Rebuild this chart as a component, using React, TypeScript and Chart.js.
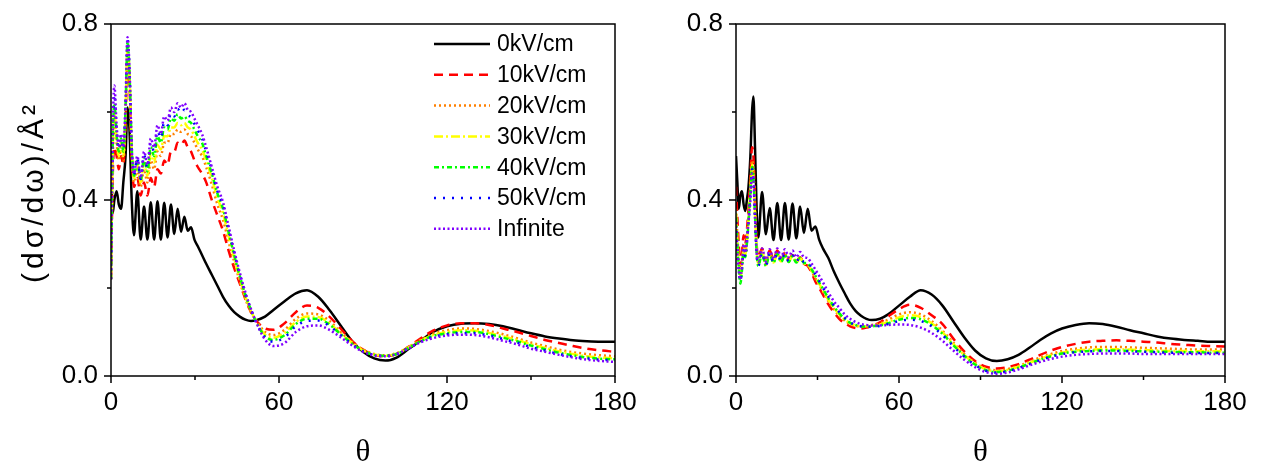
import React, { useEffect, useRef } from "react";
import { Chart, registerables } from "chart.js";

Chart.register(...registerables);

// ---------- labels / styles ----------
const SERIES_NAMES = ["0kV/cm", "10kV/cm", "20kV/cm", "30kV/cm", "40kV/cm", "50kV/cm", "Infinite"];
const SERIES_COLORS = ["#000000", "#ff0000", "#ff8000", "#ffff00", "#00ff00", "#0000ff", "#8000ff"];
const SERIES_DASH: number[][] = [[], [9, 6], [2, 3], [9, 3, 2, 3], [5, 3, 2, 3], [2, 7], [2, 2.5]];

const X_TICKS = [0, 30, 60, 90, 120, 150, 180];
const X_LABELS = ["0", "", "60", "", "120", "", "180"];
const Y_TICKS = [0, 0.2, 0.4, 0.6, 0.8];
const Y_LABELS = ["0.0", "", "0.4", "", "0.8"];
const X_TITLE = "θ";
const Y_TITLE = "(dσ/dω)/Å²";

// ---------- left panel data ----------
const LEFT_THETA = [0, 0.6, 1.2, 2.0, 2.8, 3.6, 4.4, 5.2, 5.9, 6.6, 7.4, 8.2, 9.4, 10.6, 11.8, 13.0, 14.2, 15.4, 16.6, 17.8, 19.0, 20.2, 21.4, 22.6, 23.8, 25.0, 26.2, 27.4, 28.6, 29.8, 31, 32.5, 34, 36, 38, 40, 42, 44, 46, 48, 50, 52, 55, 58, 62, 66, 70, 74, 78, 82, 86, 90, 94, 98, 102, 106, 110, 115, 120, 125, 130, 135, 140, 145, 150, 155, 160, 165, 170, 175, 180];
const LEFT_0KV = [0.50, 0.37, 0.40, 0.42, 0.39, 0.38, 0.44, 0.50, 0.61, 0.56, 0.40, 0.32, 0.42, 0.31, 0.385, 0.31, 0.395, 0.31, 0.397, 0.31, 0.394, 0.315, 0.39, 0.323, 0.38, 0.328, 0.362, 0.33, 0.338, 0.31, 0.295, 0.275, 0.255, 0.23, 0.205, 0.18, 0.16, 0.145, 0.135, 0.128, 0.125, 0.127, 0.135, 0.15, 0.17, 0.188, 0.195, 0.18, 0.15, 0.115, 0.08, 0.055, 0.04, 0.035, 0.042, 0.06, 0.078, 0.1, 0.113, 0.119, 0.12, 0.118, 0.113, 0.105, 0.097, 0.09, 0.085, 0.081, 0.079, 0.078, 0.078];
const LEFT_10KV = [0.22, 0.45, 0.52, 0.50, 0.47, 0.50, 0.48, 0.58, 0.72, 0.66, 0.50, 0.43, 0.45, 0.41, 0.44, 0.41, 0.45, 0.43, 0.47, 0.46, 0.49, 0.48, 0.51, 0.51, 0.53, 0.525, 0.535, 0.52, 0.51, 0.49, 0.475, 0.46, 0.44, 0.40, 0.365, 0.33, 0.285, 0.245, 0.21, 0.175, 0.145, 0.125, 0.108, 0.105, 0.12, 0.145, 0.16, 0.155, 0.135, 0.108, 0.08, 0.06, 0.048, 0.045, 0.05, 0.065, 0.083, 0.103, 0.115, 0.12, 0.12, 0.116, 0.108, 0.1, 0.091, 0.082, 0.075, 0.068, 0.062, 0.058, 0.055];
const LEFT_20KV = [0.22, 0.48, 0.58, 0.53, 0.49, 0.52, 0.49, 0.59, 0.74, 0.68, 0.51, 0.44, 0.47, 0.43, 0.47, 0.44, 0.49, 0.47, 0.51, 0.50, 0.53, 0.53, 0.55, 0.55, 0.56, 0.555, 0.56, 0.55, 0.545, 0.53, 0.515, 0.50, 0.475, 0.435, 0.39, 0.355, 0.305, 0.26, 0.215, 0.175, 0.145, 0.125, 0.1, 0.093, 0.105, 0.13, 0.142, 0.14, 0.125, 0.1, 0.078, 0.06, 0.05, 0.047, 0.052, 0.065, 0.08, 0.096, 0.104, 0.108, 0.107, 0.102, 0.095, 0.086, 0.076, 0.068, 0.06, 0.054, 0.05, 0.047, 0.045];
const LEFT_30KV = [0.22, 0.50, 0.60, 0.54, 0.50, 0.53, 0.50, 0.60, 0.75, 0.69, 0.515, 0.45, 0.48, 0.44, 0.485, 0.455, 0.505, 0.485, 0.525, 0.515, 0.545, 0.545, 0.565, 0.565, 0.575, 0.57, 0.575, 0.565, 0.56, 0.545, 0.53, 0.515, 0.49, 0.45, 0.405, 0.37, 0.318, 0.268, 0.222, 0.18, 0.148, 0.122, 0.094, 0.087, 0.098, 0.123, 0.135, 0.134, 0.12, 0.097, 0.076, 0.058, 0.049, 0.046, 0.051, 0.064, 0.078, 0.093, 0.1, 0.104, 0.103, 0.098, 0.09, 0.082, 0.072, 0.064, 0.056, 0.05, 0.045, 0.042, 0.04];
const LEFT_40KV = [0.22, 0.52, 0.62, 0.55, 0.51, 0.54, 0.51, 0.61, 0.76, 0.69, 0.52, 0.455, 0.49, 0.445, 0.495, 0.465, 0.52, 0.50, 0.545, 0.53, 0.565, 0.56, 0.585, 0.58, 0.595, 0.585, 0.59, 0.58, 0.575, 0.56, 0.545, 0.53, 0.50, 0.46, 0.415, 0.38, 0.327, 0.275, 0.227, 0.184, 0.15, 0.121, 0.09, 0.082, 0.093, 0.118, 0.13, 0.13, 0.117, 0.095, 0.074, 0.057, 0.048, 0.046, 0.05, 0.063, 0.077, 0.091, 0.097, 0.1, 0.1, 0.095, 0.087, 0.079, 0.069, 0.061, 0.053, 0.047, 0.042, 0.039, 0.038];
const LEFT_50KV = [0.22, 0.53, 0.64, 0.56, 0.515, 0.545, 0.515, 0.615, 0.765, 0.695, 0.52, 0.458, 0.495, 0.448, 0.503, 0.472, 0.53, 0.51, 0.557, 0.54, 0.578, 0.57, 0.598, 0.59, 0.607, 0.597, 0.605, 0.593, 0.588, 0.573, 0.558, 0.54, 0.51, 0.468, 0.42, 0.388, 0.333, 0.28, 0.23, 0.187, 0.151, 0.12, 0.087, 0.078, 0.088, 0.113, 0.125, 0.126, 0.114, 0.093, 0.073, 0.056, 0.048, 0.045, 0.05, 0.062, 0.076, 0.089, 0.095, 0.097, 0.097, 0.092, 0.084, 0.076, 0.066, 0.058, 0.05, 0.044, 0.04, 0.037, 0.036];
const LEFT_INF = [0.22, 0.55, 0.66, 0.57, 0.52, 0.55, 0.52, 0.62, 0.77, 0.70, 0.52, 0.46, 0.50, 0.45, 0.51, 0.48, 0.54, 0.52, 0.57, 0.55, 0.59, 0.58, 0.61, 0.60, 0.62, 0.61, 0.62, 0.605, 0.60, 0.585, 0.57, 0.55, 0.52, 0.475, 0.43, 0.395, 0.34, 0.285, 0.235, 0.19, 0.152, 0.12, 0.083, 0.068, 0.075, 0.1, 0.113, 0.115, 0.105, 0.088, 0.07, 0.055, 0.047, 0.045, 0.05, 0.062, 0.075, 0.086, 0.092, 0.094, 0.093, 0.088, 0.08, 0.072, 0.062, 0.055, 0.048, 0.042, 0.037, 0.034, 0.032];

// ---------- right panel data ----------
const RIGHT_THETA = [0, 0.5, 1.0, 1.6, 2.2, 2.8, 3.4, 4.0, 4.6, 5.3, 5.9, 6.4, 7.0, 7.6, 8.2, 9.6, 11.0, 12.4, 13.8, 15.2, 16.6, 18.0, 19.4, 20.8, 22.2, 23.6, 25.0, 26.4, 27.8, 29.2, 30.6, 32, 34, 36, 38, 40, 42, 44, 46, 48, 50, 53, 56, 60, 64, 68, 72, 76, 80, 84, 88, 92, 96, 100, 104, 108, 112, 116, 120, 125, 130, 135, 140, 145, 150, 155, 160, 165, 170, 175, 180];
const RIGHT_0KV = [0.50, 0.44, 0.38, 0.41, 0.42, 0.39, 0.375, 0.40, 0.43, 0.50, 0.60, 0.635, 0.52, 0.38, 0.315, 0.418, 0.322, 0.382, 0.309, 0.393, 0.309, 0.393, 0.31, 0.392, 0.313, 0.385, 0.325, 0.38, 0.33, 0.34, 0.31, 0.29, 0.268, 0.238, 0.212, 0.188, 0.165, 0.148, 0.137, 0.13, 0.127, 0.13, 0.14, 0.16, 0.18, 0.195, 0.185, 0.16, 0.124, 0.088, 0.058, 0.04, 0.034, 0.038, 0.048, 0.064, 0.082, 0.097, 0.108, 0.116, 0.12, 0.118, 0.112, 0.104, 0.097, 0.09, 0.085, 0.082, 0.08, 0.078, 0.078];
const RIGHT_10KV = [0.43, 0.36, 0.30, 0.25, 0.28, 0.32, 0.30, 0.33, 0.38, 0.45, 0.52, 0.50, 0.40, 0.30, 0.27, 0.29, 0.26, 0.285, 0.265, 0.285, 0.265, 0.28, 0.265, 0.275, 0.26, 0.27, 0.255, 0.25, 0.235, 0.215, 0.2, 0.185, 0.163, 0.145, 0.13, 0.12, 0.113, 0.109, 0.108, 0.11, 0.114, 0.122, 0.135, 0.152, 0.162, 0.155, 0.138, 0.118, 0.085, 0.056, 0.034, 0.021, 0.017, 0.02, 0.027, 0.037, 0.048, 0.058, 0.066, 0.073, 0.078, 0.08, 0.081, 0.08, 0.078, 0.076, 0.073, 0.071, 0.069, 0.068, 0.067];
const RIGHT_20KV = [0.38, 0.32, 0.27, 0.23, 0.26, 0.30, 0.28, 0.31, 0.36, 0.43, 0.49, 0.47, 0.38, 0.29, 0.26, 0.285, 0.255, 0.28, 0.26, 0.28, 0.262, 0.278, 0.262, 0.275, 0.26, 0.27, 0.255, 0.252, 0.238, 0.222, 0.207, 0.192, 0.17, 0.152, 0.137, 0.126, 0.118, 0.114, 0.113, 0.114, 0.116, 0.12, 0.128, 0.14, 0.145, 0.14, 0.125, 0.103, 0.076, 0.05, 0.03, 0.017, 0.013, 0.016, 0.023, 0.032, 0.042, 0.05, 0.057, 0.062, 0.065, 0.066, 0.066, 0.065, 0.064, 0.063, 0.062, 0.061, 0.06, 0.06, 0.06];
const RIGHT_30KV = [0.37, 0.31, 0.26, 0.22, 0.25, 0.29, 0.275, 0.305, 0.355, 0.42, 0.48, 0.46, 0.37, 0.285, 0.255, 0.28, 0.252, 0.278, 0.258, 0.278, 0.26, 0.276, 0.26, 0.273, 0.258, 0.268, 0.256, 0.254, 0.24, 0.225, 0.21, 0.195, 0.173, 0.155, 0.14, 0.128, 0.12, 0.115, 0.113, 0.113, 0.114, 0.117, 0.123, 0.133, 0.138, 0.134, 0.12, 0.099, 0.073, 0.048, 0.028, 0.015, 0.011, 0.014, 0.021, 0.03, 0.039, 0.047, 0.053, 0.058, 0.06, 0.061, 0.061, 0.06, 0.059, 0.058, 0.057, 0.057, 0.056, 0.056, 0.056];
const RIGHT_40KV = [0.36, 0.30, 0.25, 0.21, 0.24, 0.285, 0.27, 0.30, 0.35, 0.415, 0.475, 0.455, 0.365, 0.28, 0.25, 0.278, 0.25, 0.277, 0.257, 0.277, 0.259, 0.275, 0.259, 0.272, 0.258, 0.268, 0.257, 0.256, 0.243, 0.228, 0.213, 0.198, 0.177, 0.158, 0.143, 0.13, 0.121, 0.116, 0.113, 0.112, 0.113, 0.115, 0.12, 0.128, 0.132, 0.129, 0.116, 0.096, 0.07, 0.046, 0.026, 0.013, 0.009, 0.012, 0.019, 0.028, 0.037, 0.045, 0.051, 0.055, 0.057, 0.058, 0.058, 0.057, 0.056, 0.055, 0.055, 0.054, 0.054, 0.053, 0.053];
const RIGHT_50KV = [0.35, 0.29, 0.245, 0.215, 0.245, 0.29, 0.27, 0.30, 0.35, 0.41, 0.47, 0.45, 0.36, 0.278, 0.25, 0.28, 0.252, 0.279, 0.259, 0.279, 0.261, 0.277, 0.261, 0.274, 0.26, 0.27, 0.259, 0.258, 0.246, 0.231, 0.216, 0.201, 0.18, 0.161, 0.145, 0.132, 0.122, 0.116, 0.113, 0.112, 0.112, 0.114, 0.118, 0.125, 0.128, 0.125, 0.113, 0.093, 0.068, 0.044, 0.025, 0.012, 0.008, 0.011, 0.018, 0.027, 0.036, 0.044, 0.05, 0.054, 0.056, 0.057, 0.057, 0.056, 0.055, 0.054, 0.053, 0.053, 0.052, 0.052, 0.052];
const RIGHT_INF = [0.34, 0.28, 0.24, 0.22, 0.25, 0.30, 0.28, 0.31, 0.35, 0.40, 0.46, 0.45, 0.36, 0.28, 0.26, 0.29, 0.26, 0.288, 0.265, 0.29, 0.27, 0.288, 0.27, 0.285, 0.27, 0.282, 0.27, 0.268, 0.256, 0.242, 0.228, 0.213, 0.19, 0.17, 0.155, 0.14, 0.13, 0.123, 0.118, 0.116, 0.115, 0.115, 0.116, 0.117, 0.116, 0.11, 0.098, 0.08, 0.058, 0.037, 0.02, 0.009, 0.005, 0.008, 0.015, 0.024, 0.032, 0.039, 0.044, 0.048, 0.05, 0.051, 0.051, 0.051, 0.05, 0.05, 0.05, 0.05, 0.05, 0.05, 0.05];

const LEFT_SERIES = [LEFT_0KV, LEFT_10KV, LEFT_20KV, LEFT_30KV, LEFT_40KV, LEFT_50KV, LEFT_INF];
const RIGHT_SERIES = [RIGHT_0KV, RIGHT_10KV, RIGHT_20KV, RIGHT_30KV, RIGHT_40KV, RIGHT_50KV, RIGHT_INF];

const SANS = '"Liberation Sans", Arial, Helvetica, sans-serif';

const decorPlugin = {
  id: "decor",
  afterDraw(chart: any, _args: any, opts: any) {
    const { ctx, chartArea: a, scales } = chart;
    const xs = scales.x;
    const ys = scales.y;
    ctx.save();
    ctx.setLineDash([]);
    ctx.strokeStyle = "#000";
    ctx.lineWidth = 1.5;
    ctx.strokeRect(a.left, a.top, a.right - a.left, a.bottom - a.top);
    ctx.beginPath();
    xs.ticks.forEach((t: any, i: number) => {
      const px = xs.getPixelForValue(t.value);
      const len = X_LABELS[i] ? 7 : 4;
      ctx.moveTo(px, a.bottom);
      ctx.lineTo(px, a.bottom + len);
    });
    ys.ticks.forEach((t: any, i: number) => {
      const py = ys.getPixelForValue(t.value);
      const len = Y_LABELS[i] ? 7 : 4;
      ctx.moveTo(a.left, py);
      ctx.lineTo(a.left - len, py);
    });
    ctx.stroke();

    ctx.fillStyle = "#000";
    ctx.font = '31px "Liberation Serif", serif';
    ctx.textAlign = "center";
    ctx.textBaseline = "alphabetic";
    ctx.fillText(X_TITLE, (a.left + a.right) / 2, 461);

    if (opts && opts.yTitle) {
      ctx.save();
      ctx.translate(35, (a.top + a.bottom) / 2 - 8);
      ctx.rotate(-Math.PI / 2);
      ctx.font = "30px " + SANS;
      (ctx as any).letterSpacing = "4px";
      ctx.textAlign = "center";
      ctx.textBaseline = "middle";
      ctx.fillText(Y_TITLE, 0, 0);
      ctx.restore();
    }

    if (opts && opts.legend) {
      const ds = chart.data.datasets;
      ctx.font = "23px " + SANS;
      ctx.textAlign = "left";
      ctx.textBaseline = "middle";
      ds.forEach((d: any, i: number) => {
        const y = 44 + i * 30.8;
        ctx.beginPath();
        ctx.strokeStyle = d.borderColor;
        ctx.lineWidth = d.borderWidth;
        ctx.setLineDash(d.borderDash || []);
        ctx.moveTo(434, y);
        ctx.lineTo(490, y);
        ctx.stroke();
        ctx.setLineDash([]);
        ctx.fillStyle = "#000";
        ctx.fillText(d.label, 497, y + 1);
      });
    }
    ctx.restore();
  },
};

function makeConfig(theta: number[], series: number[][], yAxisWidth: number, padRight: number, withTitle: boolean, withLegend: boolean) {
  const datasets = series.map((vals, i) => ({
    label: SERIES_NAMES[i],
    data: theta.map((t, j) => ({ x: t, y: vals[j] })),
    borderColor: SERIES_COLORS[i],
    borderDash: SERIES_DASH[i],
    borderWidth: 2.5,
    pointRadius: 0,
    fill: false,
    cubicInterpolationMode: "monotone",
    order: SERIES_NAMES.length - i,
  }));
  const tickFont = { family: SANS, size: 26 };
  return {
    type: "line",
    data: { datasets },
    options: {
      animation: false,
      responsive: false,
      maintainAspectRatio: false,
      events: [],
      layout: { padding: { left: 0, right: padRight, top: 24, bottom: 0 } },
      plugins: {
        legend: { display: false },
        tooltip: { enabled: false },
        decor: { yTitle: withTitle, legend: withLegend },
      },
      scales: {
        x: {
          type: "linear",
          min: 0,
          max: 180,
          afterFit: (s: any) => { s.height = 90; s.paddingLeft = 0; s.paddingRight = 0; },
          afterBuildTicks: (s: any) => { s.ticks = X_TICKS.map((v) => ({ value: v })); },
          grid: { display: false, drawTicks: false },
          border: { display: false },
          ticks: {
            autoSkip: false, maxRotation: 0, padding: 11, color: "#000", font: tickFont,
            callback: (_v: any, i: number) => X_LABELS[i],
          },
        },
        y: {
          type: "linear",
          min: 0,
          max: 0.8,
          afterFit: (s: any) => { s.width = yAxisWidth; s.paddingTop = 0; s.paddingBottom = 0; },
          afterBuildTicks: (s: any) => { s.ticks = Y_TICKS.map((v) => ({ value: v })); },
          grid: { display: false, drawTicks: false },
          border: { display: false },
          ticks: {
            padding: 13, color: "#000", font: tickFont,
            callback: (_v: any, i: number) => Y_LABELS[i],
          },
        },
      },
    },
    plugins: [decorPlugin],
  };
}

export default function App() {
  const leftRef = useRef<HTMLCanvasElement | null>(null);
  const rightRef = useRef<HTMLCanvasElement | null>(null);

  useEffect(() => {
    const c1 = new Chart(leftRef.current as any, makeConfig(LEFT_THETA, LEFT_SERIES, 111, 22, true, true) as any);
    const c2 = new Chart(rightRef.current as any, makeConfig(RIGHT_THETA, RIGHT_SERIES, 99, 49, false, false) as any);
    return () => {
      c1.destroy();
      c2.destroy();
    };
  }, []);

  return (
    <div style={{ position: "absolute", left: 0, top: 0, width: 1274, height: 466, background: "#fff" }}>
      <canvas ref={leftRef} width={637} height={466} style={{ position: "absolute", left: 0, top: 0, width: 637, height: 466 }} />
      <canvas ref={rightRef} width={637} height={466} style={{ position: "absolute", left: 637, top: 0, width: 637, height: 466 }} />
    </div>
  );
}
